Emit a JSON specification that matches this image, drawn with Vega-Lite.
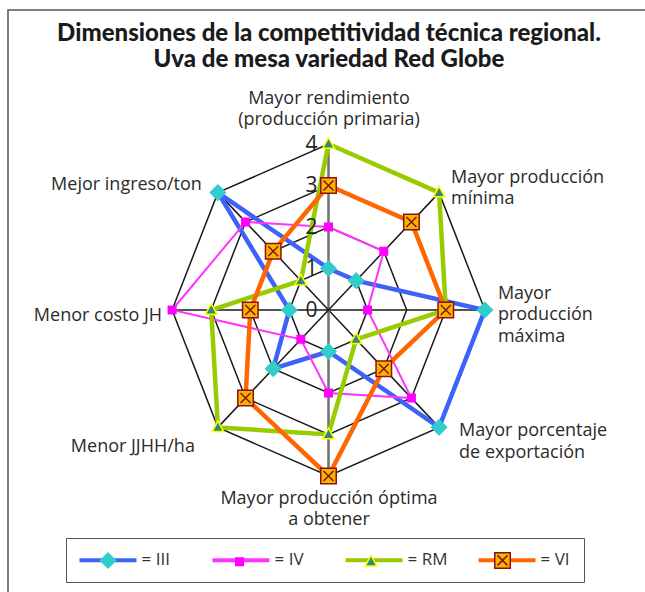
{
  "$schema": "https://vega.github.io/schema/vega-lite/v6.json",
  "width": 642,
  "height": 587,
  "autosize": "none",
  "padding": {"left": 8, "top": 10, "right": -5, "bottom": -5},
  "background": "white",
  "title": {
    "text": ["Dimensiones de la competitividad técnica regional.", "Uva de mesa variedad Red Globe"],
    "anchor": "middle",
    "frame": "group",
    "offset": -62,
    "dx": 0,
    "font": "Lato",
    "fontSize": 24,
    "fontWeight": 900,
    "lineHeight": 26,
    "color": "#1b1b1b"
  },
  "datasets": {
    "valores": [
      {"serie": "III", "i": 0, "valor": 1}, {"serie": "III", "i": 1, "valor": 1}, {"serie": "III", "i": 2, "valor": 4}, {"serie": "III", "i": 3, "valor": 4},
      {"serie": "III", "i": 4, "valor": 1}, {"serie": "III", "i": 5, "valor": 2}, {"serie": "III", "i": 6, "valor": 1}, {"serie": "III", "i": 7, "valor": 4},
      {"serie": "IV", "i": 0, "valor": 2}, {"serie": "IV", "i": 1, "valor": 2}, {"serie": "IV", "i": 2, "valor": 1}, {"serie": "IV", "i": 3, "valor": 3},
      {"serie": "IV", "i": 4, "valor": 2}, {"serie": "IV", "i": 5, "valor": 1}, {"serie": "IV", "i": 6, "valor": 4}, {"serie": "IV", "i": 7, "valor": 3},
      {"serie": "RM", "i": 0, "valor": 4}, {"serie": "RM", "i": 1, "valor": 4}, {"serie": "RM", "i": 2, "valor": 3}, {"serie": "RM", "i": 3, "valor": 1},
      {"serie": "RM", "i": 4, "valor": 3}, {"serie": "RM", "i": 5, "valor": 4}, {"serie": "RM", "i": 6, "valor": 3}, {"serie": "RM", "i": 7, "valor": 1},
      {"serie": "VI", "i": 0, "valor": 3}, {"serie": "VI", "i": 1, "valor": 3}, {"serie": "VI", "i": 2, "valor": 3}, {"serie": "VI", "i": 3, "valor": 2},
      {"serie": "VI", "i": 4, "valor": 4}, {"serie": "VI", "i": 5, "valor": 3}, {"serie": "VI", "i": 6, "valor": 2}, {"serie": "VI", "i": 7, "valor": 2}
    ],
    "ejes": [
      {"i": 0, "eje": "Mayor rendimiento\n(producción primaria)"},
      {"i": 1, "eje": "Mayor producción\nmínima"},
      {"i": 2, "eje": "Mayor\nproducción\nmáxima"},
      {"i": 3, "eje": "Mayor porcentaje\nde exportación"},
      {"i": 4, "eje": "Mayor producción óptima\na obtener"},
      {"i": 5, "eje": "Menor JJHH/ha"},
      {"i": 6, "eje": "Menor costo JH"},
      {"i": 7, "eje": "Mejor ingreso/ton"}
    ],
    "rejilla": [
      {"nivel": 1, "i": 0}, {"nivel": 1, "i": 1}, {"nivel": 1, "i": 2}, {"nivel": 1, "i": 3}, {"nivel": 1, "i": 4}, {"nivel": 1, "i": 5}, {"nivel": 1, "i": 6}, {"nivel": 1, "i": 7},
      {"nivel": 2, "i": 0}, {"nivel": 2, "i": 1}, {"nivel": 2, "i": 2}, {"nivel": 2, "i": 3}, {"nivel": 2, "i": 4}, {"nivel": 2, "i": 5}, {"nivel": 2, "i": 6}, {"nivel": 2, "i": 7},
      {"nivel": 3, "i": 0}, {"nivel": 3, "i": 1}, {"nivel": 3, "i": 2}, {"nivel": 3, "i": 3}, {"nivel": 3, "i": 4}, {"nivel": 3, "i": 5}, {"nivel": 3, "i": 6}, {"nivel": 3, "i": 7},
      {"nivel": 4, "i": 0}, {"nivel": 4, "i": 1}, {"nivel": 4, "i": 2}, {"nivel": 4, "i": 3}, {"nivel": 4, "i": 4}, {"nivel": 4, "i": 5}, {"nivel": 4, "i": 6}, {"nivel": 4, "i": 7}
    ],
    "niveles": [{"nivel": 0}, {"nivel": 1}, {"nivel": 2}, {"nivel": 3}, {"nivel": 4}]
  },
  "encoding": {
    "x": {"field": "x", "type": "quantitative", "scale": {"domain": [-8.197, 8.223], "nice": false, "zero": false}, "axis": null},
    "y": {"field": "y", "type": "quantitative", "scale": {"domain": [-6.916, 7.229], "nice": false, "zero": false}, "axis": null}
  },
  "layer": [
    {
      "data": {"name": "rejilla"},
      "transform": [
        {"calculate": "datum.nivel*sin(datum.i*PI/4)", "as": "x"},
        {"calculate": "datum.nivel*cos(datum.i*PI/4)", "as": "y"}
      ],
      "mark": {"type": "line", "interpolate": "linear-closed", "color": "#1a1a1a", "strokeWidth": 1.5},
      "encoding": {"detail": {"field": "nivel", "type": "nominal"}, "order": {"field": "i", "type": "quantitative"}}
    },
    {
      "data": {"name": "ejes"},
      "transform": [
        {"calculate": "4*sin(datum.i*PI/4)", "as": "x"},
        {"calculate": "4*cos(datum.i*PI/4)", "as": "y"}
      ],
      "mark": {"type": "rule"},
      "encoding": {
        "x": {"datum": 0, "type": "quantitative", "axis": null},
        "y": {"datum": 0, "type": "quantitative", "axis": null},
        "x2": {"field": "x"},
        "y2": {"field": "y"},
        "color": {"condition": {"test": "datum.i==0||datum.i==4", "value": "#707070"}, "value": "#1a1a1a"},
        "strokeWidth": {"condition": {"test": "datum.i==0||datum.i==4", "value": 2.5}, "value": 1.5}
      }
    },
    {
      "data": {"name": "valores"},
      "transform": [
        {"calculate": "datum.valor*sin(datum.i*PI/4)", "as": "x"},
        {"calculate": "datum.valor*cos(datum.i*PI/4)", "as": "y"}
      ],
      "mark": {"type": "line", "interpolate": "linear-closed"},
      "encoding": {
        "color": {"field": "serie", "type": "nominal",
          "scale": {"range": ["#3D62F5", "#FF33FF", "#99CC00", "#FF6600"]},
          "legend": {"orient": "none", "legendX": 58, "legendY": 528, "direction": "horizontal", "columns": 4, "gridAlign": "all", "title": null,
            "symbolType": "M-11.4,0H11.4", "symbolSize": 25, "symbolStrokeWidth": 4, "symbolOffset": 20,
            "labelOffset": 25, "labelExpr": "'= ' + datum.label", "labelFont": "Open Sans", "labelFontSize": 17, "labelColor": "#333",
            "columnPadding": 23, "padding": 13.5, "strokeColor": "#555"}},
        "strokeWidth": {"condition": {"test": "datum.serie==='IV'", "value": 2}, "value": 4.5},
        "order": {"field": "i", "type": "quantitative"}
      }
    },
    {
      "data": {"name": "valores"},
      "transform": [
        {"calculate": "datum.valor*sin(datum.i*PI/4)", "as": "x"},
        {"calculate": "datum.valor*cos(datum.i*PI/4)", "as": "y"}
      ],
      "mark": {"type": "point", "filled": true, "size": 25, "strokeWidth": 1.5, "opacity": 1},
      "encoding": {
        "fill": {"field": "serie", "type": "nominal",
          "scale": {"domain": ["III", "IV", "RM", "VI"], "range": ["#33CCCC", "#FF00FF", "#2E8B7A", "#F7B500"]},
          "legend": {"orient": "none", "legendX": 58, "legendY": 528, "direction": "horizontal", "columns": 4, "gridAlign": "all", "title": null,
            "symbolSize": 25, "symbolStrokeWidth": 1.5, "symbolOffset": 20, "labelOffset": 25, "labelExpr": "''",
            "labelFontSize": 17, "columnPadding": 64.5, "padding": 13.5}},
        "stroke": {"field": "serie", "type": "nominal",
          "scale": {"domain": ["III", "IV", "RM", "VI"], "range": ["#33CCCC", "#FF00FF", "#FFFF00", "#8B1010"]},
          "legend": {"orient": "none", "legendX": 58, "legendY": 528, "direction": "horizontal", "columns": 4, "gridAlign": "all", "title": null,
            "symbolSize": 25, "symbolStrokeWidth": 1.5, "symbolOffset": 20, "labelOffset": 25, "labelExpr": "''",
            "labelFontSize": 17, "columnPadding": 64.5, "padding": 13.5}},
        "shape": {"field": "serie", "type": "nominal",
          "scale": {"domain": ["III", "IV", "RM", "VI"], "range": [
            "M-11.9,0M11.9,0M0,-3L3,0L0,3L-3,0Z",
            "M-11.9,0M11.9,0M-1.5,-1.5H1.5V1.5H-1.5Z",
            "M-11.9,0M11.9,0M0,-2.5L2.3,1.7H-2.3Z",
            "M-11.9,0M11.9,0M-3.1,-3.1H3.1V3.1H-3.1ZM-2,-2L2,2M2,-2L-2,2"]},
          "legend": {"orient": "none", "legendX": 58, "legendY": 528, "direction": "horizontal", "columns": 4, "gridAlign": "all", "title": null,
            "symbolSize": 25, "symbolStrokeWidth": 1.5, "symbolOffset": 20, "labelOffset": 25, "labelExpr": "''",
            "labelFontSize": 17, "columnPadding": 64.5, "padding": 13.5}}
      }
    },
    {
      "data": {"name": "niveles"},
      "transform": [
        {"calculate": "0", "as": "x"},
        {"calculate": "datum.nivel", "as": "y"},
        {"calculate": "'' + datum.nivel", "as": "rotulo"}
      ],
      "mark": {"type": "text", "dx": -17, "dy": 1, "font": "Open Sans", "fontSize": 21, "color": "#222", "align": "center", "baseline": "middle"},
      "encoding": {
        "text": {"field": "rotulo", "type": "nominal"}
      }
    },
    {
      "data": {"name": "ejes"},
      "transform": [
        {"calculate": "4*sin(datum.i*PI/4)", "as": "x"},
        {"calculate": "4*cos(datum.i*PI/4)", "as": "y"}
      ],
      "layer": [
        {"transform": [{"filter": "datum.i==0"}], "mark": {"type": "text", "align": "center", "dx": 0.5, "dy": -45}, "encoding": {"text": {"field": "eje", "type": "nominal"}}},
        {"transform": [{"filter": "datum.i==1"}], "mark": {"type": "text", "align": "left", "dx": 12, "dy": -15}, "encoding": {"text": {"field": "eje", "type": "nominal"}}},
        {"transform": [{"filter": "datum.i==2"}], "mark": {"type": "text", "align": "left", "dx": 13, "dy": -16}, "encoding": {"text": {"field": "eje", "type": "nominal"}}},
        {"transform": [{"filter": "datum.i==3"}], "mark": {"type": "text", "align": "left", "dx": 20, "dy": 4}, "encoding": {"text": {"field": "eje", "type": "nominal"}}},
        {"transform": [{"filter": "datum.i==4"}], "mark": {"type": "text", "align": "center", "dx": 0.5, "dy": 23}, "encoding": {"text": {"field": "eje", "type": "nominal"}}},
        {"transform": [{"filter": "datum.i==5"}], "mark": {"type": "text", "align": "right", "dx": -23, "dy": 20}, "encoding": {"text": {"field": "eje", "type": "nominal"}}},
        {"transform": [{"filter": "datum.i==6"}], "mark": {"type": "text", "align": "right", "dx": -10, "dy": 6}, "encoding": {"text": {"field": "eje", "type": "nominal"}}},
        {"transform": [{"filter": "datum.i==7"}], "mark": {"type": "text", "align": "right", "dx": -16, "dy": -8}, "encoding": {"text": {"field": "eje", "type": "nominal"}}}
      ]
    }
  ],
  "config": {
    "view": {"stroke": "#555", "strokeWidth": 1.5},
    "text": {"font": "Open Sans", "fontSize": 18, "color": "#2b2b2b", "lineBreak": "\n", "lineHeight": 21.5, "baseline": "middle"}
  }
}
